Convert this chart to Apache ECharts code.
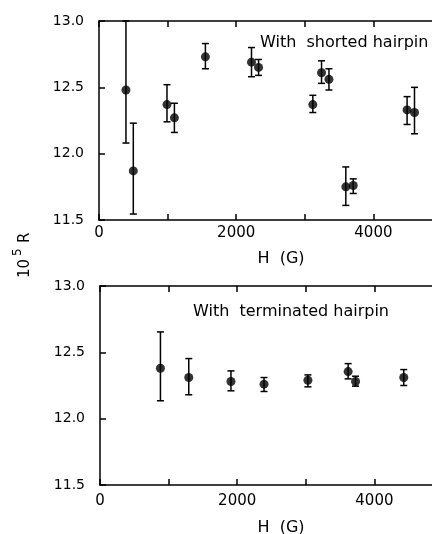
<!DOCTYPE html>
<html>
<head>
<meta charset="utf-8">
<script src="https://cdn.jsdelivr.net/npm/echarts@6/dist/echarts.min.js"></script>
<style>
html, body { margin: 0; padding: 0; background: #fff; }
#chart { width: 432px; height: 534px; }
</style>
</head>
<body>
<div id="chart"></div>
<script>
// top panel: shorted hairpin
var shortedH  = [393, 500, 991, 1099, 1551, 2223, 2326, 3117, 3244, 3352, 3598, 3706, 4491, 4599];
var shortedR  = [12.48, 11.87, 12.37, 12.27, 12.73, 12.69, 12.65, 12.37, 12.61, 12.56, 11.75, 11.76, 12.33, 12.31];
var shortedLo = [12.08, 11.545, 12.24, 12.16, 12.64, 12.58, 12.59, 12.31, 12.53, 12.48, 11.61, 11.70, 12.22, 12.15];
var shortedHi = [13.0, 12.23, 12.52, 12.38, 12.83, 12.80, 12.71, 12.44, 12.70, 12.64, 11.90, 11.81, 12.43, 12.50];

// bottom panel: terminated hairpin
var terminatedH  = [881, 1294, 1909, 2391, 3031, 3617, 3725, 4428];
var terminatedR  = [12.38, 12.31, 12.28, 12.26, 12.29, 12.355, 12.28, 12.31];
var terminatedLo = [12.135, 12.18, 12.21, 12.205, 12.24, 12.30, 12.245, 12.25];
var terminatedHi = [12.654, 12.453, 12.36, 12.31, 12.33, 12.415, 12.32, 12.37];

var xTicks = [0, 2000, 4000];
var yTicks = [11.5, 12.0, 12.5, 13.0];

var FONT = 'DejaVu Sans';
var chart = echarts.init(document.getElementById('chart'));

function pts(xs, ys) {
    return xs.map(function (x, i) { return [x, ys[i]]; });
}
function bars(xs, lo, hi) {
    return xs.map(function (x, i) { return [x, lo[i], hi[i]]; });
}

function errorBar(params, api) {
    var x = api.value(0);
    var lo = api.coord([x, api.value(1)]);
    var hi = api.coord([x, api.value(2)]);
    var cap = 3.5;
    var st = { stroke: '#000', lineWidth: 1.5 };
    return {
        type: 'group',
        children: [
            { type: 'line', shape: { x1: lo[0], y1: lo[1], x2: hi[0], y2: hi[1] }, style: st },
            { type: 'line', shape: { x1: lo[0] - cap, y1: lo[1], x2: lo[0] + cap, y2: lo[1] }, style: st },
            { type: 'line', shape: { x1: hi[0] - cap, y1: hi[1], x2: hi[0] + cap, y2: hi[1] }, style: st }
        ]
    };
}

function xAxisFor(grid, pos) {
    return {
        type: 'value',
        gridIndex: grid,
        position: pos,
        min: 0,
        max: 5000,
        interval: 1000,
        axisLine: { show: true, onZero: false, lineStyle: { color: '#000', width: 1.5 } },
        axisTick: { show: true, inside: true, length: 6, lineStyle: { color: '#000', width: 1.5 } },
        axisLabel: {
            show: pos === 'bottom',
            color: '#000',
            fontFamily: FONT,
            fontSize: 15,
            margin: grid === 0 ? 6 : 9,
            formatter: function (v) { return xTicks.indexOf(v) >= 0 ? String(v) : ''; }
        },
        splitLine: { show: false }
    };
}

function yAxisFor(grid) {
    return {
        type: 'value',
        gridIndex: grid,
        min: 11.5,
        max: 13.0,
        interval: 0.5,
        axisLine: { show: true, lineStyle: { color: '#000', width: 1.5 } },
        axisTick: { show: true, inside: true, length: 6, lineStyle: { color: '#000', width: 1.5 } },
        axisLabel: {
            color: '#000',
            fontFamily: FONT,
            fontSize: 14,
            margin: 15,
            formatter: function (v) { return yTicks.indexOf(v) >= 0 ? v.toFixed(1) : ''; }
        },
        splitLine: { show: false }
    };
}

var txt = { font: '16px "' + FONT + '"', fill: '#000' };

var option = {
    animation: false,
    backgroundColor: '#fff',
    grid: [
        // plot runs past the right edge of the picture (5000 G is cut off)
        { left: 99, top: 21, height: 199, width: 343, outerBoundsMode: 'none', containLabel: false },
        { left: 100, top: 286, height: 199, width: 343, outerBoundsMode: 'none', containLabel: false }
    ],
    xAxis: [xAxisFor(0, 'bottom'), xAxisFor(0, 'top'), xAxisFor(1, 'bottom'), xAxisFor(1, 'top')],
    yAxis: [yAxisFor(0), yAxisFor(1)],
    graphic: [
        { type: 'text', left: 260, top: 35, style: Object.assign({ text: 'With  shorted hairpin' }, txt) },
        { type: 'text', left: 193, top: 304, style: Object.assign({ text: 'With  terminated hairpin' }, txt) },
        { type: 'text', x: 281, y: 259, style: Object.assign({ text: 'H  (G)', align: 'center', verticalAlign: 'middle' }, txt) },
        { type: 'text', x: 281, y: 528, style: Object.assign({ text: 'H  (G)', align: 'center', verticalAlign: 'middle' }, txt) },
        // y title 10^5 R, rotated
        { type: 'text', x: 33, y: 278, rotation: Math.PI / 2, style: { text: '10', font: '15px "' + FONT + '"', fill: '#000', align: 'left', verticalAlign: 'bottom' } },
        { type: 'text', x: 24, y: 256, rotation: Math.PI / 2, style: { text: '5', font: '12px "' + FONT + '"', fill: '#000', align: 'left', verticalAlign: 'bottom' } },
        { type: 'text', x: 33, y: 243, rotation: Math.PI / 2, style: { text: 'R', font: '15px "' + FONT + '"', fill: '#000', align: 'left', verticalAlign: 'bottom' } }
    ],
    series: [
        {
            type: 'custom',
            xAxisIndex: 0,
            yAxisIndex: 0,
            renderItem: errorBar,
            encode: { x: 0, y: [1, 2] },
            data: bars(shortedH, shortedLo, shortedHi),
            clip: false,
            z: 2
        },
        {
            type: 'scatter',
            xAxisIndex: 0,
            yAxisIndex: 0,
            symbol: 'circle',
            symbolSize: 9,
            itemStyle: { color: '#000' },
            data: pts(shortedH, shortedR),
            z: 3
        },
        {
            type: 'custom',
            xAxisIndex: 2,
            yAxisIndex: 1,
            renderItem: errorBar,
            encode: { x: 0, y: [1, 2] },
            data: bars(terminatedH, terminatedLo, terminatedHi),
            clip: false,
            z: 2
        },
        {
            type: 'scatter',
            xAxisIndex: 2,
            yAxisIndex: 1,
            symbol: 'circle',
            symbolSize: 9,
            itemStyle: { color: '#000' },
            data: pts(terminatedH, terminatedR),
            z: 3
        }
    ]
};

chart.setOption(option);
window.addEventListener('resize', function () {
    chart.resize();
});
</script>
</body>
</html>
